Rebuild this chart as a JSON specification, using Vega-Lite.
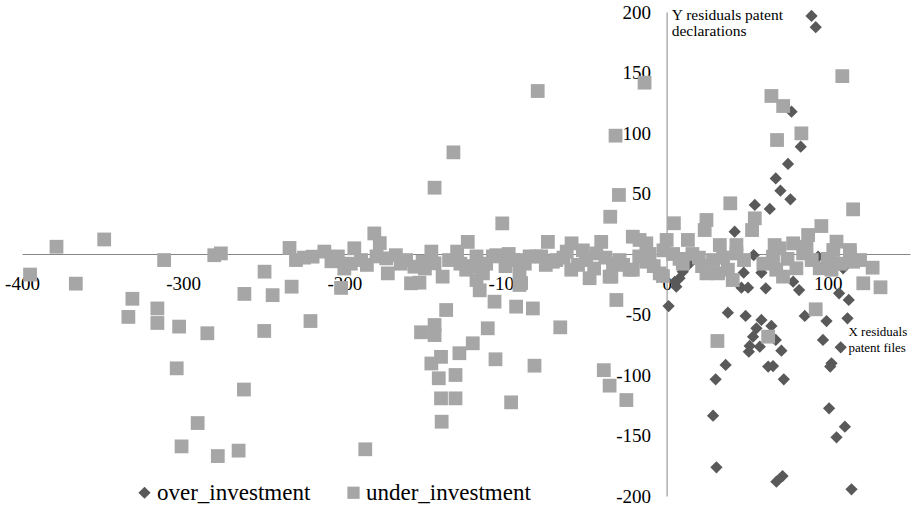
{
 "$schema": "https://vega.github.io/schema/vega-lite/v6.json",
 "width": 888, "height": 484,
 "autosize": {"type": "none"},
 "padding": {"left": 22, "top": 12, "right": 9, "bottom": 10},
 "background": "white",
 "config": {"view": {"stroke": null}, "font": "Liberation Serif, Times New Roman, DejaVu Serif, serif"},
 "datasets": {
  "over": [
   {"x":89.9,"y":196.7},{"x":92.5,"y":187.4},{"x":77.5,"y":117.6},{"x":83.2,"y":88.7},{"x":75.3,"y":74.4},{"x":67.7,"y":62.5},{"x":70.6,"y":52.3},{"x":76.8,"y":45.2},{"x":54.7,"y":40.5},{"x":64,"y":37.2},{"x":42.2,"y":18.4},{"x":54,"y":-1},
   {"x":47.8,"y":-15.4},{"x":58.8,"y":-15.4},{"x":46.4,"y":-27.8},{"x":50.5,"y":-27.8},{"x":61.5,"y":-28.4},{"x":78.5,"y":-22.9},{"x":82.2,"y":-29.8},{"x":107,"y":-32.5},{"x":113,"y":-38},{"x":94,"y":-2.2},{"x":109.5,"y":-11.8},{"x":38,"y":-48.5},{"x":49,"y":-51.2},{"x":85.7,"y":-51.2},{"x":99.2,"y":-55.4},{"x":112.2,"y":-53.2},{"x":58.8,"y":-54.5},{"x":65,"y":-59.5},{"x":55.7,"y":-61.4},{"x":53.6,"y":-68.3},{"x":51.5,"y":-76},{"x":57.8,"y":-76.6},{"x":51,"y":-80.7},{"x":97,"y":-71},{"x":108,"y":-77.1},{"x":71.2,"y":-79.9},{"x":67.7,"y":-71},{"x":102.3,"y":-90.3},{"x":101.5,"y":-93},{"x":36.6,"y":-91.7},{"x":30.4,"y":-103.6},{"x":63,"y":-93},{"x":66,"y":-92.6},{"x":72.7,"y":-103.6},{"x":28.8,"y":-133.6},{"x":100.8,"y":-127.5},{"x":110.6,"y":-142.7},{"x":105.4,"y":-151.5},{"x":30.9,"y":-176.3},{"x":71.9,"y":-183.5},{"x":68.1,"y":-188.2},{"x":114.7,"y":-194.5},{"x":1.2,"y":-43},{"x":6,"y":-27},{"x":8,"y":-20},{"x":10,"y":-14.6},{"x":12.2,"y":-10.5},{"x":15.3,"y":-6.4},{"x":17.4,"y":-3.6},{"x":5,"y":-23}
  ],
  "under": [
   {"x":-395,"y":-17},{"x":-378.6,"y":6},{"x":-349,"y":12},{"x":-366.6,"y":-24.5},{"x":-311.8,"y":-5},{"x":-331.5,"y":-37},{"x":-334,"y":-52},{"x":-316,"y":-45},{"x":-316,"y":-57},{"x":-302.5,"y":-60},{"x":-285,"y":-65.5},{"x":-304,"y":-94.5},{"x":-291,"y":-139.7},{"x":-301,"y":-159},{"x":-278.5,"y":-167},{"x":-265.6,"y":-162.5},{"x":-262.3,"y":-112},{"x":-262,"y":-33},{"x":-280.7,"y":-1},{"x":-276.6,"y":0.5},{"x":-249.5,"y":-14.6},{"x":-244.5,"y":-34},{"x":-249.7,"y":-63.6},{"x":-234,"y":5},{"x":-230,"y":-5},{"x":-232.7,"y":-27},
   {"x":-221,"y":-55.4},{"x":-219.7,"y":-2.2},{"x":-212.4,"y":2},{"x":-204,"y":-2},{"x":-200,"y":-12},{"x":-193.8,"y":4.7},{"x":-189.6,"y":-5},{"x":-202,"y":-28},{"x":-181.4,"y":17},{"x":-178,"y":9},{"x":-180,"y":-2},{"x":-174,"y":-3.6},{"x":-173,"y":-16},{"x":-168,"y":-1},{"x":-161.7,"y":-5},{"x":-156.5,"y":-10.5},{"x":-158.6,"y":-24.2},{"x":-153.4,"y":-23.7},{"x":-151.4,"y":-6.4},{"x":-146,"y":2},{"x":-144,"y":-7.7},{"x":-139,"y":-18.7},{"x":-123.4,"y":10},{"x":-124.4,"y":-13},{"x":-118,"y":-21.5},{"x":-136.8,"y":-46.3},{"x":-144,"y":-58.7},{"x":-152.4,"y":-64.7},{"x":-144,"y":-67},{"x":-120.3,"y":-73.8},{"x":-128.6,"y":-82},{"x":-140,"y":-85},{"x":-146,"y":-90.5},{"x":-141.4,"y":-102.7},{"x":-131,"y":-100},{"x":-140,"y":-119.3},{"x":-131,"y":-119.3},{"x":-139.6,"y":-138.6},{"x":-187,"y":-161.4},
   {"x":-225,"y":-3},{"x":-208,"y":-6},{"x":-196,"y":-8},{"x":-186,"y":-9},{"x":-165,"y":-8},{"x":-150,"y":-12},{"x":-135,"y":-5},{"x":-130,"y":2},{"x":-128,"y":-8},
   {"x":-80,"y":134.7},{"x":-13.7,"y":141.6},{"x":-132.3,"y":84},{"x":-144,"y":54.8},{"x":-31.7,"y":97.8},{"x":-29.6,"y":48.8},{"x":-35,"y":30.8},{"x":-102,"y":25.3},{"x":-73.7,"y":10},{"x":-59,"y":8.8},{"x":-40.6,"y":10},{"x":-21,"y":14.3},
   {"x":-118,"y":-2},{"x":-105.8,"y":-1},{"x":-95.5,"y":-5},{"x":-85,"y":-2},{"x":-91.3,"y":-16},{"x":-77.8,"y":-2},{"x":-68.5,"y":-5},{"x":-59.2,"y":-13},{"x":-50,"y":-5},{"x":-47.8,"y":-20},{"x":-35.4,"y":-18.7},{"x":-33.3,"y":-7.7},{"x":-23,"y":-13},{"x":-12.6,"y":-6.4},{"x":-4.3,"y":-16},{"x":-114,"y":-16},{"x":-116,"y":-30},{"x":-91.3,"y":-25.6},{"x":-31.2,"y":-38},{"x":-93.4,"y":-43.5},{"x":-83,"y":-45},
   {"x":-106.8,"y":-39.4},{"x":-111,"y":-61.4},{"x":-66,"y":-60.6},{"x":-106.2,"y":-87},{"x":-82,"y":-92.3},{"x":-39,"y":-96},{"x":-35.4,"y":-108.8},{"x":-25,"y":-120.7},{"x":-96.5,"y":-122.6},{"x":-107.8,"y":-2},{"x":-93.4,"y":-5},{"x":-81,"y":-2},{"x":-70.6,"y":-6.4},{"x":-34.3,"y":-18.7},{"x":-21,"y":-13},{"x":-29.2,"y":-5},{"x":-43.7,"y":0.5},{"x":-90.3,"y":-24},
   {"x":-112,"y":-8},{"x":-100,"y":-10},{"x":-88,"y":-8},{"x":-75,"y":-9},{"x":-64,"y":-3},{"x":-55,"y":-9},{"x":-45,"y":-12},{"x":-38,"y":-3},{"x":-27,"y":-9},{"x":-17,"y":-2},{"x":-8,"y":-10},{"x":-2,"y":3},{"x":-120,"y":-10},{"x":-98,"y":0},{"x":-62,"y":2},{"x":-52,"y":3},
   {"x":109,"y":147},{"x":65,"y":130.6},{"x":72.3,"y":122.3},{"x":68.5,"y":94.2},{"x":83.6,"y":99.7},{"x":39.5,"y":41.9},{"x":115.7,"y":36.9},{"x":4.5,"y":25.4},{"x":24.7,"y":28.1},{"x":23.6,"y":19.8},{"x":54.7,"y":29.5},{"x":53,"y":19.8},{"x":96,"y":23.1},{"x":87.8,"y":15.7},{"x":105.4,"y":10.2},{"x":113.7,"y":3.3},{"x":67,"y":7.4},{"x":78.5,"y":8.8},{"x":13.2,"y":11.6},{"x":0,"y":11.6},{"x":33,"y":7.4},{"x":43.3,"y":7.4},{"x":-12.6,"y":8.8},{"x":-16.8,"y":11.6},
   {"x":-2.3,"y":-18.2},{"x":31.5,"y":-71.9},{"x":63,"y":-68.3},{"x":92.5,"y":-45.7},{"x":127.8,"y":-11.3},{"x":122,"y":-24.2},{"x":132.7,"y":-27.5},{"x":-10.6,"y":0},{"x":4,"y":0},{"x":16,"y":0},{"x":28.8,"y":-5},{"x":31.9,"y":-16},{"x":38,"y":-13},{"x":43.3,"y":0.5},{"x":66,"y":-2.2},{"x":68,"y":-13},{"x":72.2,"y":-18.7},{"x":80.5,"y":-11.8},{"x":84.7,"y":0.5},{"x":95,"y":-11.8},{"x":102.3,"y":-13},{"x":103.4,"y":3.3},{"x":113.7,"y":0.5},{"x":115.7,"y":-6.4},{"x":70,"y":4.7},{"x":86.8,"y":6},{"x":24.7,"y":-16},{"x":41,"y":-21.5},{"x":10,"y":-8},{"x":20,"y":-3},
   {"x":8,"y":-4},{"x":22,"y":-10},{"x":35,"y":-3},{"x":48,"y":-5},{"x":60,"y":-8},{"x":75,"y":-4},{"x":90,"y":-5},{"x":100,"y":-4},{"x":108,"y":-8},{"x":120,"y":-5}
  ],
  "notesY": [
   {"x":3.1,"y":197.5,"label":"Y residuals patent"},
   {"x":3.1,"y":184,"label":"declarations"}
  ],
  "notesX": [
   {"x":112.8,"y":-64.5,"label":"X residuals"},
   {"x":112.8,"y":-77.5,"label":"patent files"}
  ]
 },
 "encoding": {
  "x": {"field": "x", "type": "quantitative",
   "scale": {"domain": [-400, 151], "nice": false, "zero": false},
   "axis": {"title": null, "orient": "bottom", "offset": -242, "values": [-400,-300,-200,-100,0,100],
    "labelExpr": "'' + datum.value", "ticks": false, "grid": false, "domainColor": "#868686", "domainWidth": 1,
    "labelFont": "Liberation Serif, Times New Roman, DejaVu Serif, serif", "labelFontSize": 19, "labelColor": "#000000", "labelPadding": 20,
    "labelFlush": false, "labelOverlap": false, "labelBound": false}},
  "y": {"field": "y", "type": "quantitative",
   "scale": {"domain": [-200, 200], "nice": false, "zero": false},
   "axis": {"title": null, "orient": "left", "offset": -644.6, "values": [-200,-150,-100,-50,0,50,100,150,200],
    "labelExpr": "'' + datum.value", "ticks": false, "grid": false, "domainColor": "#868686", "domainWidth": 1,
    "labelFont": "Liberation Serif, Times New Roman, DejaVu Serif, serif", "labelFontSize": 19, "labelColor": "#000000", "labelPadding": 16,
    "labelFlush": false, "labelOverlap": false, "labelBound": false}}
 },
 "layer": [
  {"data": {"name": "over"},
   "mark": {"type": "point", "filled": true, "opacity": 1, "size": 150, "strokeWidth": 0},
   "encoding": {
    "color": {"datum": "over_investment", "type": "nominal",
     "scale": {"domain": ["over_investment", "under_investment"], "range": ["#595959", "#A6A6A6"]},
     "legend": {"orient": "none", "legendX": 111, "legendY": 469, "direction": "horizontal", "title": null,
      "labelFont": "Liberation Serif, Times New Roman, DejaVu Serif, serif", "labelFontSize": 23, "labelColor": "#000000", "labelLimit": 400, "symbolSize": 150,
      "columnPadding": 31, "labelOffset": 1, "padding": 0, "symbolStrokeWidth": 0, "symbolOpacity": 1}},
    "shape": {"datum": "over_investment", "type": "nominal",
     "scale": {"domain": ["over_investment", "under_investment"], "range": ["diamond", "square"]},
     "legend": {"orient": "none", "legendX": 111, "legendY": 469, "direction": "horizontal", "title": null,
      "labelFont": "Liberation Serif, Times New Roman, DejaVu Serif, serif", "labelFontSize": 23, "labelColor": "#000000", "labelLimit": 400, "symbolSize": 150,
      "columnPadding": 31, "labelOffset": 1, "padding": 0, "symbolStrokeWidth": 0, "symbolOpacity": 1}}
   }},
  {"data": {"name": "under"},
   "mark": {"type": "point", "filled": true, "opacity": 1, "size": 190, "strokeWidth": 0},
   "encoding": {
    "color": {"datum": "under_investment", "type": "nominal"},
    "shape": {"datum": "under_investment", "type": "nominal"}
   }},
  {"data": {"name": "notesY"},
   "mark": {"type": "text", "align": "left", "baseline": "middle", "fontSize": 15.5, "font": "Liberation Serif, Times New Roman, DejaVu Serif, serif", "color": "#000000"},
   "encoding": {"text": {"field": "label"}}},
  {"data": {"name": "notesX"},
   "mark": {"type": "text", "align": "left", "baseline": "middle", "fontSize": 13, "font": "Liberation Serif, Times New Roman, DejaVu Serif, serif", "color": "#000000"},
   "encoding": {"text": {"field": "label"}}}
 ]
}
